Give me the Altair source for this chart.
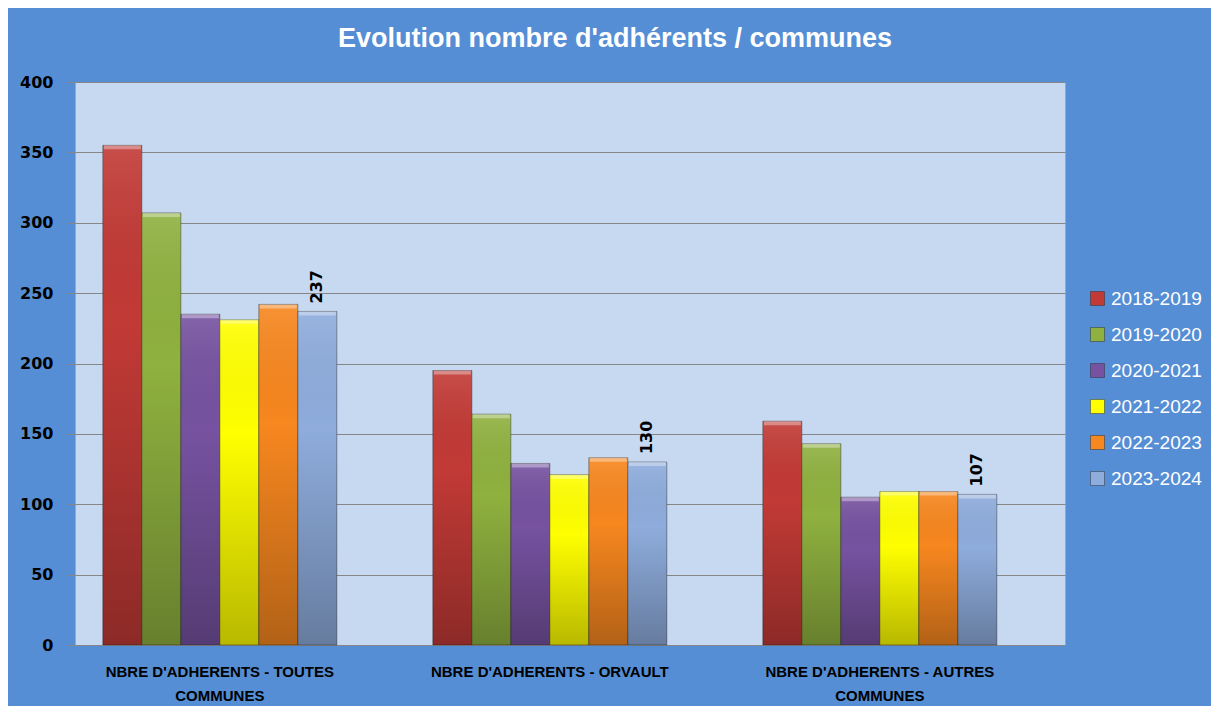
import altair as alt
import pandas as pd

categories = [
    "NBRE D'ADHERENTS - TOUTES COMMUNES",
    "NBRE D'ADHERENTS - ORVAULT",
    "NBRE D'ADHERENTS - AUTRES COMMUNES",
]
seasons = ["2018-2019", "2019-2020", "2020-2021", "2021-2022", "2022-2023", "2023-2024"]
toutes = [355, 307, 235, 231, 242, 237]
orvault = [195, 164, 129, 121, 133, 130]
autres = [159, 143, 105, 109, 109, 107]
colors = ["#C23A36", "#8FB13F", "#7652A0", "#FFFF00", "#F7871F", "#8EACDC"]

rows = []
for cat, vals in zip(categories, [toutes, orvault, autres]):
    for s, v in zip(seasons, vals):
        rows.append({"commune": cat, "saison": s, "n": v})
df = pd.DataFrame(rows)

x_enc = alt.X(
    "commune:N",
    sort=categories,
    scale=alt.Scale(paddingInner=0.291, paddingOuter=0.1455, align=0.29),
    axis=alt.Axis(
        title=None,
        labelAngle=0,
        ticks=False,
        domainColor="#868686",
        labelFont="Liberation Sans",
        labelFontWeight="bold",
        labelFontSize=15,
        labelColor="#000000",
        labelPadding=19,
        labelLineHeight=24,
        labelLimit=0,
        labelExpr="indexof(datum.label, ' COMMUNES') > 0 ? [replace(datum.label, ' COMMUNES', ''), 'COMMUNES'] : datum.label",
    ),
)
xo_enc = alt.XOffset("saison:N", sort=seasons, scale=alt.Scale(paddingInner=0, paddingOuter=0))
y_enc = alt.Y(
    "n:Q",
    scale=alt.Scale(domain=[0, 400], nice=False),
    axis=alt.Axis(
        title=None,
        values=[0, 50, 100, 150, 200, 250, 300, 350, 400],
        grid=True,
        gridColor="#868686",
        gridWidth=1,
        tickColor="#868686",
        tickSize=8,
        domain=False,
        labelFont="DejaVu Sans",
        labelFontWeight="bold",
        labelFontSize=16,
        labelColor="#000000",
        labelPadding=14,
    ),
)

base = alt.Chart(df).encode(x=x_enc, xOffset=xo_enc, y=y_enc)

bars = base.mark_bar(stroke="rgba(40,40,40,0.45)", strokeWidth=1).encode(
    color=alt.Color(
        "saison:N",
        sort=seasons,
        scale=alt.Scale(domain=seasons, range=colors),
        legend=alt.Legend(
            title=None,
            orient="none",
            legendX=1013,
            legendY=207,
            symbolType="square",
            symbolSize=196,
            symbolStrokeWidth=1,
            labelColor="#FFFFFF",
            labelFont="Liberation Sans",
            labelFontSize=19,
            rowPadding=16,
            labelOffset=4,
        ),
    )
)

shade = base.mark_bar(
    color=alt.Gradient(
        gradient="linear",
        stops=[
            alt.GradientStop(color="rgba(255,255,255,0.10)", offset=0),
            alt.GradientStop(color="rgba(0,0,0,0.0)", offset=0.35),
            alt.GradientStop(color="rgba(0,0,0,0.28)", offset=1),
        ],
        x1=0, x2=0, y1=0, y2=1,
    )
)

highlight = base.mark_tick(
    orient="horizontal", color="#FFFFFF", opacity=0.35, thickness=4, size=37, yOffset=2
)

labels = base.mark_text(
    angle=270, align="left", baseline="middle", dx=8,
    font="DejaVu Sans", fontWeight="bold", fontSize=16, color="#000000",
).encode(text="n:Q").transform_filter(alt.datum.saison == "2023-2024")

chart = (
    alt.layer(bars, shade, highlight, labels)
    .properties(
        width=990,
        height=563,
        autosize=alt.AutoSizeParams(type="none"),
        padding={"left": 67, "top": 74, "right": 146, "bottom": 61},
        background="#558ED5",
        title=alt.TitleParams(
            "Evolution nombre d'adhérents / communes",
            color="#FFFFFF",
            font="Liberation Sans",
            fontWeight="bold",
            fontSize=27,
            anchor="middle",
            dx=45,
            offset=21,
        ),
    )
    .configure_view(fill="#C6D9F1", stroke="#A6A6A6")
)

chart.save("out.html", embed_options={"renderer": "svg", "actions": False})
